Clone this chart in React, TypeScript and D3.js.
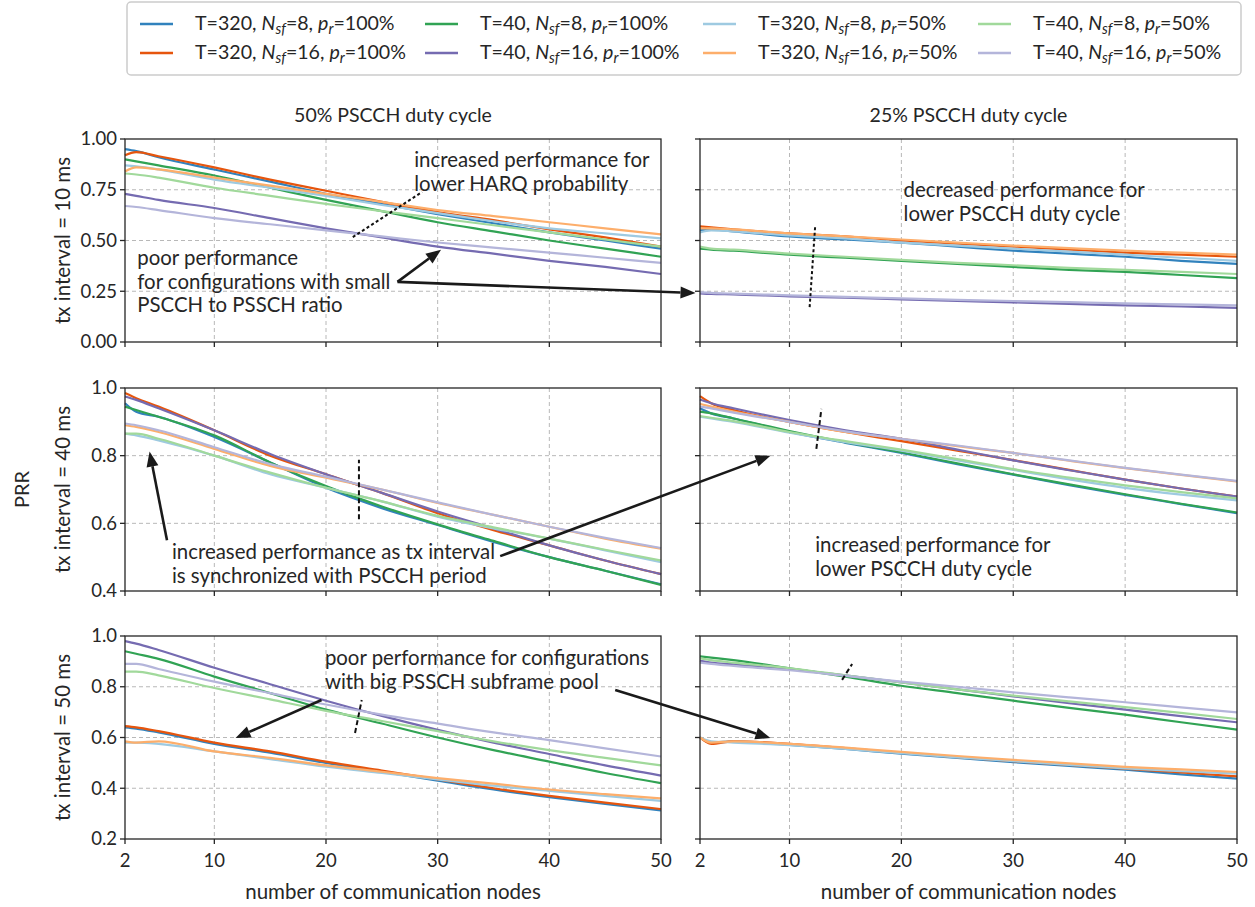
import React from "react";
import * as d3 from "d3";

// x positions (number of communication nodes) at which the curves were read
const NODES = [2, 3, 5, 10, 15, 20, 25, 30, 35, 40, 45, 50];

const SERIES = [
  { T: "320", nsf: "8", pr: "100%" },
  { T: "320", nsf: "16", pr: "100%" },
  { T: "40", nsf: "8", pr: "100%" },
  { T: "40", nsf: "16", pr: "100%" },
  { T: "320", nsf: "8", pr: "50%" },
  { T: "320", nsf: "16", pr: "50%" },
  { T: "40", nsf: "8", pr: "50%" },
  { T: "40", nsf: "16", pr: "50%" },
];

const COLORS = ["#3182bd", "#e6550d", "#31a354", "#756bb1", "#9ecae1", "#fdae6b", "#a1d99b", "#b4b5da"];

// tx interval = 10 ms, 50% PSCCH duty cycle
const PRR_10_50 = [
  [0.95, 0.94, 0.91, 0.85, 0.79, 0.73, 0.68, 0.63, 0.585, 0.54, 0.5, 0.46],
  [0.92, 0.935, 0.915, 0.86, 0.8, 0.745, 0.69, 0.64, 0.6, 0.555, 0.515, 0.47],
  [0.9, 0.89, 0.87, 0.82, 0.76, 0.7, 0.645, 0.59, 0.545, 0.5, 0.46, 0.42],
  [0.73, 0.72, 0.7, 0.66, 0.61, 0.56, 0.515, 0.47, 0.435, 0.4, 0.37, 0.335],
  [0.87, 0.865, 0.85, 0.8, 0.76, 0.72, 0.675, 0.635, 0.595, 0.56, 0.535, 0.51],
  [0.84, 0.86, 0.85, 0.81, 0.77, 0.73, 0.69, 0.65, 0.62, 0.59, 0.56, 0.53],
  [0.83, 0.825, 0.81, 0.76, 0.72, 0.68, 0.645, 0.61, 0.575, 0.54, 0.505, 0.47],
  [0.67, 0.665, 0.65, 0.61, 0.58, 0.55, 0.52, 0.49, 0.465, 0.44, 0.415, 0.39],
];

// tx interval = 10 ms, 25% PSCCH duty cycle
const PRR_10_25 = [
  [0.55, 0.555, 0.545, 0.52, 0.505, 0.49, 0.47, 0.45, 0.435, 0.42, 0.4, 0.385],
  [0.57, 0.565, 0.555, 0.535, 0.52, 0.5, 0.485, 0.47, 0.455, 0.44, 0.43, 0.42],
  [0.46, 0.455, 0.45, 0.43, 0.415, 0.4, 0.385, 0.37, 0.355, 0.345, 0.33, 0.315],
  [0.24, 0.237, 0.235, 0.225, 0.218, 0.21, 0.202, 0.195, 0.188, 0.18, 0.175, 0.168],
  [0.54, 0.55, 0.545, 0.525, 0.51, 0.49, 0.475, 0.46, 0.445, 0.43, 0.415, 0.4],
  [0.56, 0.56, 0.555, 0.535, 0.52, 0.505, 0.49, 0.475, 0.462, 0.45, 0.44, 0.43],
  [0.47, 0.46, 0.455, 0.435, 0.42, 0.405, 0.39, 0.378, 0.365, 0.355, 0.345, 0.335],
  [0.245, 0.242, 0.238, 0.23, 0.222, 0.215, 0.208, 0.202, 0.196, 0.19, 0.185, 0.18],
];

// tx interval = 40 ms, 50% PSCCH duty cycle
const PRR_40_50 = [
  [0.955, 0.93, 0.915, 0.855, 0.78, 0.705, 0.645, 0.595, 0.545, 0.5, 0.46, 0.42],
  [0.985, 0.97, 0.945, 0.875, 0.8, 0.745, 0.69, 0.63, 0.58, 0.535, 0.49, 0.45],
  [0.945, 0.935, 0.915, 0.86, 0.78, 0.71, 0.65, 0.597, 0.548, 0.5, 0.46, 0.418],
  [0.975, 0.965, 0.94, 0.875, 0.805, 0.745, 0.69, 0.635, 0.585, 0.535, 0.49, 0.45],
  [0.865, 0.86, 0.845, 0.8, 0.745, 0.705, 0.665, 0.62, 0.585, 0.555, 0.52, 0.485],
  [0.89, 0.885, 0.87, 0.82, 0.77, 0.735, 0.7, 0.66, 0.625, 0.59, 0.555, 0.525],
  [0.865, 0.865, 0.85, 0.8, 0.75, 0.705, 0.665, 0.622, 0.588, 0.555, 0.522, 0.49],
  [0.895, 0.89, 0.875, 0.825, 0.775, 0.738, 0.7, 0.662, 0.625, 0.59, 0.557, 0.527],
];

// tx interval = 40 ms, 25% PSCCH duty cycle
const PRR_40_25 = [
  [0.94, 0.925, 0.91, 0.87, 0.838, 0.808, 0.775, 0.744, 0.713, 0.684, 0.657, 0.63],
  [0.976, 0.955, 0.935, 0.9, 0.87, 0.843, 0.815, 0.787, 0.758, 0.729, 0.703, 0.679],
  [0.93, 0.925, 0.91, 0.873, 0.84, 0.81, 0.777, 0.745, 0.715, 0.686, 0.658, 0.632],
  [0.966, 0.955, 0.94, 0.905, 0.875, 0.85, 0.818, 0.786, 0.757, 0.729, 0.703, 0.679],
  [0.915, 0.91, 0.9, 0.868, 0.84, 0.815, 0.786, 0.758, 0.73, 0.705, 0.685, 0.668],
  [0.953, 0.945, 0.93, 0.9, 0.87, 0.85, 0.828, 0.808, 0.785, 0.763, 0.743, 0.724],
  [0.917, 0.912, 0.902, 0.87, 0.843, 0.818, 0.79, 0.76, 0.735, 0.712, 0.692, 0.674],
  [0.945, 0.94, 0.927, 0.9, 0.872, 0.85, 0.83, 0.808, 0.786, 0.764, 0.744, 0.725],
];

// tx interval = 50 ms, 50% PSCCH duty cycle
const PRR_50_50 = [
  [0.64, 0.635, 0.62, 0.575, 0.54, 0.5, 0.465, 0.43, 0.395, 0.365, 0.338, 0.313],
  [0.645, 0.64, 0.625, 0.58, 0.545, 0.505, 0.47, 0.435, 0.4, 0.37, 0.343, 0.318],
  [0.94, 0.93, 0.91, 0.84, 0.775, 0.71, 0.655, 0.6, 0.55, 0.505, 0.46, 0.42],
  [0.98, 0.97, 0.945, 0.875, 0.81, 0.745, 0.685, 0.63, 0.58, 0.535, 0.49, 0.45],
  [0.58, 0.58, 0.575, 0.545, 0.515, 0.485, 0.46, 0.435, 0.41, 0.39, 0.37, 0.35],
  [0.585, 0.58, 0.585, 0.545, 0.52, 0.49, 0.465, 0.44, 0.418, 0.395, 0.377, 0.36],
  [0.86, 0.86, 0.845, 0.795, 0.75, 0.705, 0.665, 0.625, 0.585, 0.55, 0.52, 0.49],
  [0.89, 0.89, 0.87, 0.82, 0.775, 0.73, 0.69, 0.655, 0.62, 0.59, 0.557, 0.525],
];

// tx interval = 50 ms, 25% PSCCH duty cycle
const PRR_50_25 = [
  [0.6, 0.58, 0.585, 0.571, 0.555, 0.536, 0.52, 0.503, 0.488, 0.473, 0.455, 0.438],
  [0.6, 0.575, 0.585, 0.575, 0.558, 0.54, 0.523, 0.507, 0.492, 0.477, 0.462, 0.447],
  [0.92, 0.915, 0.905, 0.873, 0.84, 0.804, 0.775, 0.745, 0.717, 0.69, 0.66, 0.631],
  [0.902, 0.895, 0.888, 0.87, 0.845, 0.817, 0.79, 0.762, 0.735, 0.71, 0.684, 0.66],
  [0.6, 0.585, 0.58, 0.57, 0.555, 0.538, 0.522, 0.507, 0.492, 0.478, 0.467, 0.458],
  [0.6, 0.58, 0.585, 0.575, 0.56, 0.543, 0.527, 0.512, 0.498, 0.484, 0.474, 0.464],
  [0.912, 0.905, 0.895, 0.873, 0.845, 0.817, 0.79, 0.765, 0.742, 0.72, 0.697, 0.673],
  [0.895, 0.89, 0.882, 0.865, 0.843, 0.82, 0.8, 0.778, 0.758, 0.739, 0.719, 0.699],
];

const X_TICKS = [2, 10, 20, 30, 40, 50];
const ROW_LABELS = ["tx interval = 10 ms", "tx interval = 40 ms", "tx interval = 50 ms"];
const COL_TITLES = ["50% PSCCH duty cycle", "25% PSCCH duty cycle"];
const Y_DOMAINS = [[0, 1], [0.4, 1], [0.2, 1]];
const Y_TICKS = [[0, 0.25, 0.5, 0.75, 1.0], [0.4, 0.6, 0.8, 1.0], [0.2, 0.4, 0.6, 0.8, 1.0]];
const Y_FORMATS = [".2f", ".1f", ".1f"];
const PANEL_DATA = [
  [PRR_10_50, PRR_10_25],
  [PRR_40_50, PRR_40_25],
  [PRR_50_50, PRR_50_25],
];

// annotations in data coordinates of a panel [row, col]
const NOTES = [
  { p: [0, 0], x: 27.9, y: 0.895, lines: ["increased performance for", "lower HARQ probability"] },
  { p: [0, 0], x: 3.1, y: 0.414, lines: ["poor performance", "for configurations with small", "PSCCH to PSSCH ratio"] },
  { p: [0, 1], x: 20.2, y: 0.749, lines: ["decreased performance for", "lower PSCCH duty cycle"] },
  { p: [1, 0], x: 6.2, y: 0.515, lines: ["increased performance as tx interval", "is synchronized with PSCCH period"] },
  { p: [1, 1], x: 12.3, y: 0.535, lines: ["increased performance for", "lower PSCCH duty cycle"] },
  { p: [2, 0], x: 19.9, y: 0.913, lines: ["poor performance for configurations", "with big PSSCH subframe pool"] },
];

const GUIDES = [
  { p: [0, 0], a: [22.4, 0.517], b: [28.6, 0.739], dash: "3,2.5" },
  { p: [0, 1], a: [11.8, 0.172], b: [12.3, 0.576], dash: "3,2.5" },
  { p: [1, 0], a: [22.95, 0.612], b: [22.95, 0.788], dash: "5,3" },
  { p: [1, 1], a: [12.4, 0.82], b: [12.85, 0.938], dash: "5,3" },
  { p: [2, 0], a: [22.6, 0.618], b: [23.2, 0.748], dash: "5,3" },
  { p: [2, 1], a: [14.7, 0.827], b: [15.6, 0.89], dash: "5,3" },
];

// arrows: start in panel p, tip in panel q
const ARROWS = [
  { p: [0, 0], a: [26.4, 0.296], q: [0, 0], b: [30.3, 0.455] },
  { p: [0, 0], a: [26.4, 0.296], q: [0, 1], b: [1.6, 0.241] },
  { p: [1, 0], a: [5.76, 0.55], q: [1, 0], b: [4.2, 0.812] },
  { p: [1, 0], a: [35.6, 0.503], q: [1, 1], b: [8.3, 0.8] },
  { p: [2, 0], a: [19.6, 0.748], q: [2, 0], b: [11.9, 0.598] },
  { p: [2, 0], a: [45.9, 0.787], q: [2, 1], b: [8.3, 0.598] },
];

const FONT = "Lato, 'DejaVu Sans', sans-serif";
const TXT = "#262626";
const X_RANGES = [[125, 661], [700, 1237]];
const Y_RANGES = [[139, 342], [388, 591], [636, 839]];

function scalesFor(row: number, col: number) {
  const x = d3.scaleLinear().domain([2, 50]).range(X_RANGES[col]);
  const y = d3.scaleLinear().domain(Y_DOMAINS[row]).range([Y_RANGES[row][1], Y_RANGES[row][0]]);
  return { x, y };
}

function Panel({ row, col }: { row: number; col: number }) {
  const { x, y } = scalesFor(row, col);
  const [x0, x1] = X_RANGES[col];
  const [y0, y1] = Y_RANGES[row];
  const fmt = d3.format(Y_FORMATS[row]);
  const line = d3
    .line<number>()
    .x((_, i) => x(NODES[i]))
    .y((d) => y(d))
    .curve(d3.curveMonotoneX);
  const data = PANEL_DATA[row][col];
  return (
    <g>
      {/* grid */}
      {X_TICKS.slice(1, -1).map((t) => (
        <line key={"gx" + t} x1={x(t)} x2={x(t)} y1={y0} y2={y1} stroke="#b0b0b0" strokeWidth={0.9} strokeDasharray="4,3" />
      ))}
      {Y_TICKS[row].slice(1, -1).map((t) => (
        <line key={"gy" + t} x1={x0} x2={x1} y1={y(t)} y2={y(t)} stroke="#b0b0b0" strokeWidth={0.9} strokeDasharray="4,3" />
      ))}
      {/* series */}
      {data.map((s, i) => (
        <path key={i} d={line(s) || ""} fill="none" stroke={COLORS[i]} strokeWidth={2.2} />
      ))}
      {/* frame */}
      <rect x={x0} y={y0} width={x1 - x0} height={y1 - y0} fill="none" stroke={TXT} strokeWidth={1.3} />
      {/* x ticks */}
      {X_TICKS.map((t) => (
        <g key={"tx" + t}>
          <line x1={x(t)} x2={x(t)} y1={y1} y2={y1 + 5} stroke={TXT} strokeWidth={1.3} />
          {row === 2 && (
            <text x={x(t)} y={y1 + 28} textAnchor="middle" fontSize={18.5} fill={TXT} fontFamily={FONT}>
              {t}
            </text>
          )}
        </g>
      ))}
      {/* y ticks */}
      {Y_TICKS[row].map((t) => (
        <g key={"ty" + t}>
          <line x1={x0 - 5} x2={x0} y1={y(t)} y2={y(t)} stroke={TXT} strokeWidth={1.3} />
          {col === 0 && (
            <text x={x0 - 8} y={y(t)} dy="0.35em" textAnchor="end" fontSize={18.5} fill={TXT} fontFamily={FONT}>
              {fmt(t)}
            </text>
          )}
        </g>
      ))}
    </g>
  );
}

function LegendLabel({ s, x, y }: { s: (typeof SERIES)[number]; x: number; y: number }) {
  return (
    <text x={x} y={y} fontSize={19.6} fill={TXT} fontFamily={FONT}>
      <tspan>{`T=${s.T}, `}</tspan>
      <tspan fontStyle="italic">N</tspan>
      <tspan fontStyle="italic" fontSize={14.5} dy={4}>sf</tspan>
      <tspan dy={-4}>{`=${s.nsf}, `}</tspan>
      <tspan fontStyle="italic">p</tspan>
      <tspan fontStyle="italic" fontSize={14.5} dy={4}>r</tspan>
      <tspan dy={-4}>{`=${s.pr}`}</tspan>
    </text>
  );
}

const LEGEND_COLS = [140, 425, 703, 978];

export default function App() {
  const arrowHead = (ax: number, ay: number, bx: number, by: number) => {
    const ang = Math.atan2(by - ay, bx - ax);
    const L = 15;
    const Wd = 6;
    const px = bx - L * Math.cos(ang);
    const py = by - L * Math.sin(ang);
    const nx = -Math.sin(ang) * Wd;
    const ny = Math.cos(ang) * Wd;
    return { pts: `${bx},${by} ${px + nx},${py + ny} ${px - nx},${py - ny}`, px, py };
  };

  return (
    <svg width={1255} height={907} style={{ position: "absolute", left: 0, top: 0, background: "#fff" }}>
      <rect width={1255} height={907} fill="#fff" />
      {/* legend */}
      <rect x={127} y={2} width={1114} height={73} rx={4} fill="#fff" stroke="#cccccc" strokeWidth={1.5} />
      {SERIES.map((s, i) => {
        const c = Math.floor(i / 2);
        const r = i % 2;
        const lx = LEGEND_COLS[c];
        const ly = 24 + r * 29;
        return (
          <g key={i}>
            <line x1={lx} x2={lx + 33} y1={ly} y2={ly} stroke={COLORS[i]} strokeWidth={2.5} />
            <LegendLabel s={s} x={lx + 55} y={ly + 6} />
          </g>
        );
      })}

      {/* column titles */}
      {COL_TITLES.map((t, c) => (
        <text key={t} x={(X_RANGES[c][0] + X_RANGES[c][1]) / 2} y={122} textAnchor="middle" fontSize={19.5} fill={TXT} fontFamily={FONT}>
          {t}
        </text>
      ))}

      {/* row labels */}
      {ROW_LABELS.map((t, r) => {
        const cy = (Y_RANGES[r][0] + Y_RANGES[r][1]) / 2;
        return (
          <text key={t} transform={`translate(70,${cy}) rotate(-90)`} textAnchor="middle" fontSize={20.5} fill={TXT} fontFamily={FONT}>
            {t}
          </text>
        );
      })}
      <text transform={`translate(29,${(Y_RANGES[1][0] + Y_RANGES[1][1]) / 2}) rotate(-90)`} textAnchor="middle" fontSize={20} fill={TXT} fontFamily={FONT}>
        PRR
      </text>

      {[0, 1, 2].map((r) => [0, 1].map((c) => <Panel key={r + "-" + c} row={r} col={c} />))}

      {/* x axis labels */}
      {X_RANGES.map((xr, c) => (
        <text key={"xl" + c} x={(xr[0] + xr[1]) / 2} y={899} textAnchor="middle" fontSize={20.5} fill={TXT} fontFamily={FONT}>
          number of communication nodes
        </text>
      ))}

      {/* guide lines */}
      {GUIDES.map((g, i) => {
        const s = scalesFor(g.p[0], g.p[1]);
        return (
          <line key={"gd" + i} x1={s.x(g.a[0])} y1={s.y(g.a[1])} x2={s.x(g.b[0])} y2={s.y(g.b[1])} stroke="#111" strokeWidth={2} strokeDasharray={g.dash} />
        );
      })}

      {/* notes */}
      {NOTES.map((n, i) => {
        const s = scalesFor(n.p[0], n.p[1]);
        return (
          <text key={"n" + i} x={s.x(n.x)} y={s.y(n.y)} fontSize={20.4} fill={TXT} fontFamily={FONT}>
            {n.lines.map((l, k) => (
              <tspan key={k} x={s.x(n.x)} dy={k === 0 ? "0.35em" : 23.5}>
                {l}
              </tspan>
            ))}
          </text>
        );
      })}

      {/* arrows */}
      {ARROWS.map((a, i) => {
        const s1 = scalesFor(a.p[0], a.p[1]);
        const s2 = scalesFor(a.q[0], a.q[1]);
        const ax = s1.x(a.a[0]);
        const ay = s1.y(a.a[1]);
        const bx = s2.x(a.b[0]);
        const by = s2.y(a.b[1]);
        const h = arrowHead(ax, ay, bx, by);
        return (
          <g key={"a" + i}>
            <line x1={ax} y1={ay} x2={h.px} y2={h.py} stroke="#1a1a1a" strokeWidth={2.6} />
            <polygon points={h.pts} fill="#1a1a1a" />
          </g>
        );
      })}
    </svg>
  );
}
